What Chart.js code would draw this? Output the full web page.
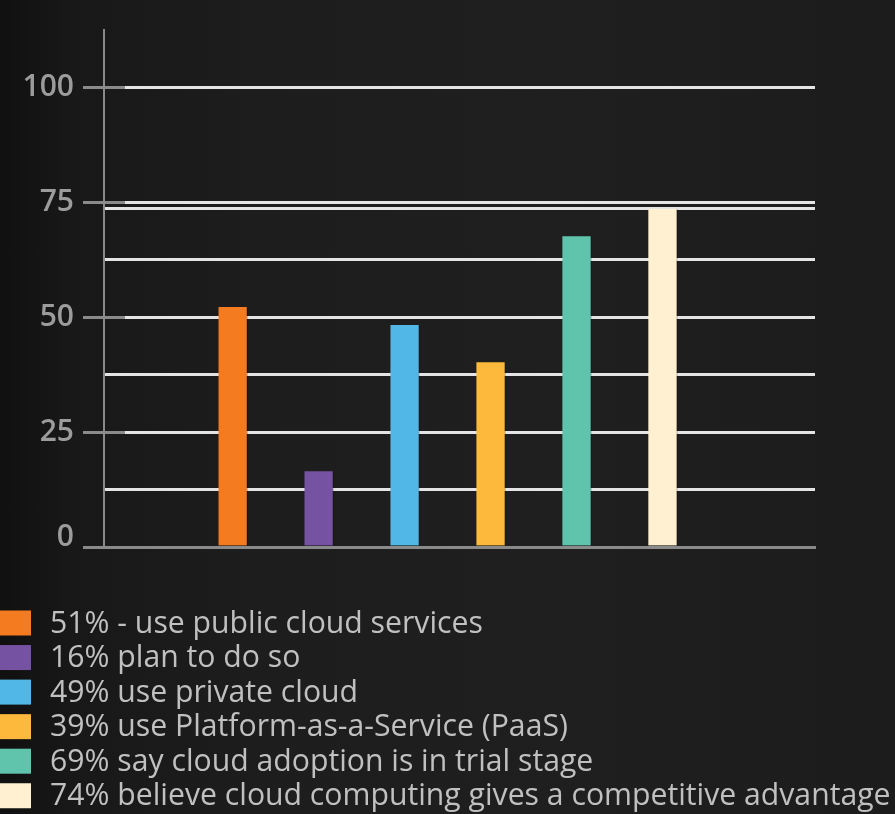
<!DOCTYPE html>
<html>
<head>
<meta charset="utf-8">
<script src="https://cdn.jsdelivr.net/npm/chart.js@4.4.0/dist/chart.umd.min.js"></script>
<style>
  html, body { margin: 0; padding: 0; }
  body {
    width: 895px; height: 814px; overflow: hidden;
    background: linear-gradient(to right, #101010 0px, #181818 70px, #1d1d1d 250px, #1f1f1f 550px, #1c1c1c 895px);
  }
  #wrap { width: 895px; height: 814px; }
</style>
</head>
<body>
<div id="wrap"><canvas id="chart"></canvas></div>
<script>
const labels = [
    "51% - use public cloud services",
    "16% plan to do so",
    "49% use private cloud",
    "39% use Platform-as-a-Service (PaaS)",
    "69% say cloud adoption is in trial stage",
    "74% believe cloud computing gives a competitive advantage"
];
const values = [52.2, 16.5, 48.3, 40.2, 67.6, 73.6];
const colors = ["#f47b20", "#7652a2", "#51b7e6", "#fcb93b", "#60c4ad", "#fff0d2"];
const yTicks = [0, 25, 50, 75, 100];
const yMax = 112.5;
const topValue = Math.max(...values);

Chart.defaults.font.family = '"Open Sans", sans-serif';

// gray stubs of the labelled ticks, running into the plot
const tickStubs = {
    id: "tickStubs",
    beforeDatasetsDraw(chart) {
        const { ctx, chartArea, scales: { y } } = chart;
        ctx.save();
        ctx.strokeStyle = "#8a8a8a";
        ctx.lineWidth = 3;
        yTicks.forEach(v => {
            const py = Math.round(y.getPixelForValue(v)) + 0.5;
            ctx.beginPath();
            ctx.moveTo(chartArea.left, py);
            ctx.lineTo(chartArea.left + 21, py);
            ctx.stroke();
        });
        ctx.restore();
    }
};

// one legend entry per line, under the plot
const listLegend = {
    id: "listLegend",
    afterDraw(chart) {
        const { ctx, chartArea } = chart;
        ctx.save();
        ctx.font = '30.2px "Open Sans"';
        ctx.textBaseline = "middle";
        chart.data.datasets.forEach((ds, i) => {
            const cy = chartArea.bottom + 76 + i * 34.55;
            ctx.fillStyle = ds.backgroundColor;
            ctx.fillRect(0, cy - 12.5, 31, 25);
            ctx.fillStyle = "#c0c0c0";
            ctx.fillText(ds.label, 50, cy + 1);
        });
        ctx.restore();
    }
};

// grid: labelled ticks, every step below the tallest bar, and the tallest bar itself
function gridColor(c) {
    const v = c.tick.value;
    if (v === 0) return "transparent";
    if (yTicks.includes(v) || v <= topValue) return "#e4e4e4";
    return "transparent";
}

const ctx = document.getElementById("chart").getContext("2d");
new Chart(ctx, {
    type: "bar",
    data: {
        datasets: labels.map((label, i) => ({
            label: label,
            data: [{ x: i + 1, y: values[i] }],
            backgroundColor: colors[i],
            borderColor: "rgba(0,0,0,0.3)",
            borderWidth: { right: 1 },
            borderSkipped: false,
            barThickness: 29,
            grouped: false
        }))
    },
    options: {
        responsive: true,
        maintainAspectRatio: false,
        animation: false,
        devicePixelRatio: 1,
        layout: { padding: { left: 22, right: 80, top: 30, bottom: 267 } },
        plugins: {
            legend: { display: false },
            tooltip: { enabled: false }
        },
        scales: {
            x: {
                type: "linear",
                offset: false,
                min: -0.5,
                max: 7.77,
                grid: { display: false, drawTicks: false },
                ticks: { display: false },
                border: { color: "#8a8a8a", width: 3 }
            },
            y: {
                min: 0,
                max: yMax,
                afterBuildTicks: scale => {
                    scale.ticks.push({ value: topValue });
                    scale.ticks.sort((a, b) => a.value - b.value);
                },
                afterFit: scale => {
                    scale.width = 82;
                    scale.paddingTop = 0;
                },
                ticks: {
                    stepSize: 12.5,
                    padding: 9,
                    color: "#9c9c9c",
                    // the "0" label sits a little above its tick
                    font: c => ({ size: 30, weight: "600", lineHeight: (c.tick && c.tick.value === 0) ? "20px" : 1.2 }),
                    callback: v => v === 0 ? ["0", ""] : (yTicks.includes(v) ? String(v) : "")
                },
                grid: {
                    color: gridColor,
                    tickColor: c => yTicks.includes(c.tick.value) ? "#8a8a8a" : "transparent",
                    lineWidth: 3,
                    tickWidth: 3,
                    tickLength: 21
                },
                border: { color: "#8a8a8a", width: 2 }
            }
        }
    },
    plugins: [tickStubs, listLegend]
});
</script>
</body>
</html>
